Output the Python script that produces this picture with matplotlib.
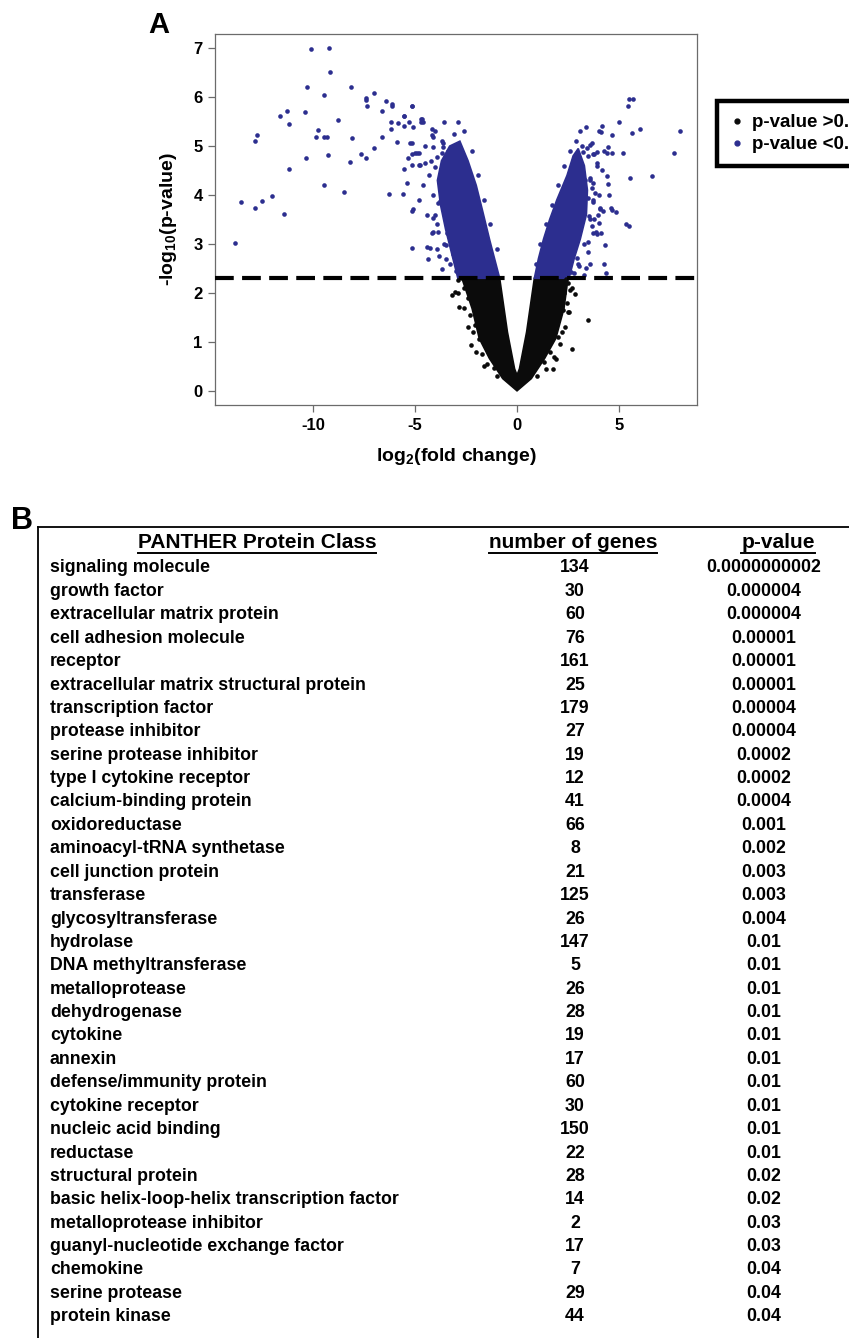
# -*- coding: utf-8 -*-
"""
Volcano plot (panel A) + PANTHER protein-class enrichment table (panel B).
Output: out.png, 849 x 1338 px.
"""
import matplotlib
matplotlib.use("Agg")
import matplotlib.pyplot as plt
from matplotlib.lines import Line2D

plt.rcParams.update({
    "font.family": ["Liberation Sans", "DejaVu Sans"],
    "font.weight": "bold",
    "mathtext.fontset": "custom",
    "mathtext.rm": "Liberation Sans:bold",
    "mathtext.bf": "Liberation Sans:bold",
    "mathtext.it": "Liberation Sans:bold",
})

C_NS = "#0b0b0b"        # p-value > 0.005
C_SIG = "#2c2e8f"       # p-value < 0.005
THRESH = 2.301          # -log10(0.005)

# ── panel A: scattered genes (log2 FC, -log10 p) ────────────────────────────
sig_x = [-10.11, -9.23, -9.17, -10.28, -8.15, -9.44, -6.99, -7.40, -7.40, -6.44,
         -6.13, -6.13, -7.34, -5.15, -11.62, -11.26, -11.18, -10.38, -8.76, -6.63,
         -6.18, -5.54, -5.29, -5.08, -4.71, -4.71, -5.54, -5.82, -6.19, -9.77,
         -9.85, -9.44, -9.30, -8.07, -9.26, -10.33, -8.19, -7.65, -7.42, -6.99,
         -6.60, -5.90, -5.25, -12.84, -12.73, -11.18, -13.53, -12.84, -12.48, -12.03,
         -11.44, -9.46, -8.48, -6.29, -5.57, -5.54, -5.33, -5.15, -5.15, -5.15,
         -5.41, -5.00, -4.80, -4.80, -13.80,
         -5.09, -5.13, -4.40, -4.25, -4.34, -3.81, -3.68, -4.02, -3.87, -4.10,
         -3.34, -3.77, -3.58, -3.30, -3.49, -3.15, -2.96, -2.83, -2.92,
         -5.16, -5.54, -4.67, -4.59, -4.18, -4.18, -4.10, -3.61, -3.61, -3.28,
         -3.20, -3.12, -2.71, -2.55, -5.16, -4.92, -4.75, -4.51, -4.10, -3.94,
         -4.02, -3.77, -3.69, -3.45, -2.96, -2.96, -3.86, -4.13, -3.53, -3.28,
         -3.20, -4.18, -3.45,
         -4.30, -4.10, -4.40, -3.90, -3.60, -3.30, -3.90, -4.60, -4.20, -3.70,
         -3.10, -2.60, -4.50, -3.40, -2.20, -1.90, -1.60, -1.30, -1.00, -3.00,
         -2.80, -3.50, -4.80, -4.00, -3.60, -2.90,
         5.47, 5.70, 5.46, 5.02, 6.03, 5.65, 7.99, 7.70, 6.63, 5.54,
         5.50, 5.21, 4.64, 4.18, 4.02, 4.10, 4.48, 4.26, 4.66, 4.40,
         3.91, 3.66, 3.56, 3.42, 3.25, 3.78, 3.70, 3.94, 4.15, 4.43,
         4.48, 4.51, 4.22, 4.64, 4.85, 4.07, 4.12, 2.76, 3.01, 3.25,
         3.33, 3.58, 3.74, 3.66, 3.82, 3.50, 3.74, 3.99, 3.53, 3.66,
         3.74, 4.34, 4.25, 3.58, 3.30, 3.02, 3.87, 4.02, 4.30, 4.62,
         5.32, 4.06, 3.77, 3.49, 3.49, 3.11, 2.92, 2.64,
         3.60, 3.70, 3.60, 3.30, 3.00, 2.80, 3.90, 3.50, 3.20, 2.90,
         2.60, 2.30, 2.00, 1.70, 1.40, 1.15, 0.95, 4.00, 3.90, 3.40,
         3.10, 3.40]
sig_y = [6.99, 7.00, 6.52, 6.21, 6.21, 6.04, 6.09, 5.99, 5.95, 5.92,
         5.87, 5.82, 5.81, 5.82, 5.61, 5.72, 5.46, 5.69, 5.54, 5.71,
         5.49, 5.61, 5.50, 5.38, 5.55, 5.49, 5.41, 5.48, 5.34, 5.33,
         5.18, 5.18, 5.18, 5.16, 4.82, 4.75, 4.67, 4.84, 4.76, 4.97,
         5.19, 5.08, 5.07, 5.10, 5.23, 4.53, 3.85, 3.74, 3.87, 3.99,
         3.62, 4.20, 4.07, 4.03, 4.02, 4.53, 4.76, 4.84, 4.61, 3.68,
         4.25, 4.85, 4.85, 4.61, 3.02,
         3.71, 2.92, 2.94, 2.91, 2.69, 2.76, 2.49, 3.59, 3.25, 3.25,
         3.25, 3.88, 3.69, 3.69, 2.98, 2.79, 2.64, 3.25, 2.50,
         5.82, 5.61, 5.56, 5.49, 5.35, 5.23, 5.19, 5.07, 4.99, 4.80,
         4.65, 4.58, 4.39, 4.37, 5.07, 4.85, 4.61, 4.65, 4.99, 4.78,
         4.58, 4.37, 4.85, 4.51, 4.44, 4.24, 3.83, 3.54, 3.96, 3.90,
         3.76, 3.22, 3.22,
         4.40, 4.00, 3.60, 3.40, 3.00, 2.60, 2.90, 4.20, 4.70, 5.10,
         5.25, 5.30, 5.00, 4.90, 4.90, 4.40, 3.90, 3.40, 2.90, 2.45,
         2.55, 2.70, 3.90, 5.30, 5.50, 5.50,
         5.96, 5.96, 5.82, 5.50, 5.34, 5.27, 5.31, 4.86, 4.39, 4.35,
         3.37, 4.85, 5.22, 5.41, 5.31, 5.28, 4.99, 4.90, 4.86, 4.85,
         4.88, 5.07, 5.02, 4.97, 4.87, 4.84, 4.83, 4.66, 4.51, 4.39,
         4.22, 4.00, 3.68, 3.69, 3.66, 3.72, 3.22, 4.69, 4.58, 4.44,
         4.31, 4.34, 4.24, 4.14, 4.05, 3.93, 3.86, 3.59, 3.57, 3.36,
         3.23, 2.40, 2.60, 2.60, 2.37, 2.54, 3.25, 3.42, 2.98, 3.73,
         3.41, 3.73, 3.52, 2.84, 3.05, 3.29, 2.71, 2.43,
         4.30, 3.90, 3.50, 3.00, 2.60, 2.40, 4.60, 4.80, 5.00, 5.10,
         4.90, 4.60, 4.20, 3.80, 3.40, 3.00, 2.60, 4.00, 3.20, 2.50,
         5.30, 5.40]

ns_x = [-3.21, -3.06, -2.83, -2.26, -2.17, 3.49, 2.70, 1.92, 2.83, 2.26,
        2.36, 1.32, -2.87, -1.94, -2.04, -2.60, -2.40, 2.50, 2.60, 2.45,
        -1.70, -1.45, 1.60, 2.00, -2.30, 2.40, -2.70, 2.10, -1.85, 1.75,
        -1.13, -2.50, -2.35, 2.30, 2.55, -2.90, -2.60, -2.40, -2.00, -1.60,
        2.70, 2.50, 2.20, 1.80, 1.40, -1.00, 1.00]
ns_y = [1.96, 2.02, 1.72, 0.93, 1.21, 1.45, 0.85, 0.64, 1.98, 1.65,
        1.31, 0.59, 2.26, 1.58, 1.34, 2.10, 1.90, 2.20, 2.05, 1.80,
        0.75, 0.55, 0.80, 1.10, 1.55, 2.28, 2.30, 0.95, 1.05, 0.45,
        0.46, 2.25, 2.15, 2.00, 1.60, 2.00, 1.70, 1.30, 0.80, 0.50,
        2.10, 1.60, 1.20, 0.70, 0.45, 0.30, 0.30]

# envelopes of the three saturated clouds (too dense to read point by point)
core_ns_x = [0.0, -0.70, -1.35, -1.85, -2.20, -2.70, -0.85, -0.47, -0.12, 0.0,
             0.12, 0.47, 0.85, 2.50, 2.30, 1.90, 1.35, 0.70]
core_ns_y = [0.0, 0.25, 0.66, 1.07, 1.68, 2.30, 2.30, 1.20, 0.45, 0.32,
             0.45, 1.20, 2.30, 2.30, 1.68, 1.07, 0.66, 0.25]
core_left_x = [-2.90, -3.20, -3.50, -3.75, -3.90, -3.70, -3.30, -2.80, -2.40,
               -2.00, -1.70, -1.35, -1.10, -0.85]
core_left_y = [2.30, 2.80, 3.30, 3.80, 4.30, 4.70, 5.00, 5.10, 4.70,
               4.20, 3.70, 3.10, 2.70, 2.30]
core_right_x = [0.85, 1.05, 1.30, 1.60, 1.95, 2.45, 2.75, 3.00, 3.30, 3.45,
                3.40, 3.10, 2.80, 2.55]
core_right_y = [2.30, 2.70, 3.10, 3.50, 3.90, 4.40, 4.80, 4.95, 4.60, 4.10,
                3.60, 3.10, 2.70, 2.30]

x_ticks = [-10, -5, 0, 5]
y_ticks = [0, 1, 2, 3, 4, 5, 6, 7]
legend_labels = ["p-value >0.005", "p-value <0.005"]

# ── panel B: PANTHER table ───────────────────────────────────────────────────
headers = ["PANTHER Protein Class", "number of genes", "p-value"]
classes = [
    "signaling molecule", "growth factor", "extracellular matrix protein",
    "cell adhesion molecule", "receptor", "extracellular matrix structural protein",
    "transcription factor", "protease inhibitor", "serine protease inhibitor",
    "type I cytokine receptor", "calcium-binding protein", "oxidoreductase",
    "aminoacyl-tRNA synthetase", "cell junction protein", "transferase",
    "glycosyltransferase", "hydrolase", "DNA methyltransferase", "metalloprotease",
    "dehydrogenase", "cytokine", "annexin", "defense/immunity protein",
    "cytokine receptor", "nucleic acid binding", "reductase", "structural protein",
    "basic helix-loop-helix transcription factor", "metalloprotease inhibitor",
    "guanyl-nucleotide exchange factor", "chemokine", "serine protease",
    "protein kinase",
]
n_genes = [134, 30, 60, 76, 161, 25, 179, 27, 19, 12, 41, 66, 8, 21, 125, 26,
           147, 5, 26, 28, 19, 17, 60, 30, 150, 22, 28, 14, 2, 17, 7, 29, 44]
p_values = ["0.0000000002", "0.000004", "0.000004", "0.00001", "0.00001",
            "0.00001", "0.00004", "0.00004", "0.0002", "0.0002", "0.0004",
            "0.001", "0.002", "0.003", "0.003", "0.004", "0.01", "0.01", "0.01",
            "0.01", "0.01", "0.01", "0.01", "0.01", "0.01", "0.01", "0.02",
            "0.02", "0.03", "0.03", "0.04", "0.04", "0.04"]

W, H = 849, 1338


def fx(px):
    return px / W


def fy(py):
    return 1 - py / H


fig = plt.figure(figsize=(W / 100, H / 100), dpi=100)

# ── (A) volcano ──────────────────────────────────────────────────────────────
ax = fig.add_axes([fx(215), fy(405), fx(697) - fx(215), fy(34) - fy(405)])
ax.fill(core_ns_x, core_ns_y, color=C_NS, lw=1.2, zorder=2)
ax.fill(core_left_x, core_left_y, color=C_SIG, lw=1.2, zorder=2)
ax.fill(core_right_x, core_right_y, color=C_SIG, lw=1.2, zorder=2)
ax.scatter(ns_x, ns_y, s=11, c=C_NS, lw=0, zorder=3)
ax.scatter(sig_x, sig_y, s=11, c=C_SIG, lw=0, zorder=3)
ax.axhline(THRESH, color="black", lw=3, ls=(0, (4.5, 2.0)), zorder=4)

ax.set_xlim(-14.8, 8.82)
ax.set_ylim(-0.29, 7.29)
ax.set_xticks(x_ticks)
ax.set_yticks(y_ticks)
ax.set_xticklabels([str(t) for t in x_ticks])
for sp in ax.spines.values():
    sp.set_color("#6b6b6b")
    sp.set_linewidth(0.9)
ax.tick_params(length=5, width=0.9, color="#6b6b6b", labelsize=12, pad=4)
ax.set_xlabel(r"log$_{2}$(fold change)", fontsize=14, fontweight="bold", labelpad=10)
ax.set_ylabel(r"-log$_{10}$(p-value)", fontsize=14, fontweight="bold", labelpad=10)

fig.text(fx(148), fy(25), "A", fontsize=21, fontweight="bold", ha="left", va="center")

handles = [Line2D([], [], marker="o", ls="", color=C_NS, ms=3.5),
           Line2D([], [], marker="o", ls="", color=C_SIG, ms=3.5)]
leg = fig.legend(handles, legend_labels, loc="upper left",
                 bbox_to_anchor=(fx(717), fy(101)), prop={"size": 13.5, "weight": "bold"},
                 frameon=True, fancybox=False, framealpha=1, borderpad=0.7,
                 labelspacing=0.25, handlelength=0.7, handletextpad=0.45, borderaxespad=0)
leg.get_frame().set_edgecolor("black")
leg.get_frame().set_linewidth(3.2)

# ── (B) table ────────────────────────────────────────────────────────────────
fig.text(fx(11), fy(521), "B", fontsize=22, fontweight="bold", ha="left", va="center")
box_x, box_top = 38, 527
fig.add_artist(Line2D([fx(box_x), 1.0], [fy(box_top), fy(box_top)], color="black", lw=1.3))
fig.add_artist(Line2D([fx(box_x), fx(box_x)], [fy(box_top), 0.0], color="black", lw=1.3))

head_x = [257, 573, 778]
col_x = [50, 575, 764]
head_y = 543
row0_y, row_dy = 568, 23.4

head_txt = [fig.text(fx(cx), fy(head_y), h, fontsize=15, fontweight="bold",
                     ha="center", va="center") for cx, h in zip(head_x, headers)]
for i, (cl, n, p) in enumerate(zip(classes, n_genes, p_values)):
    y = fy(row0_y + i * row_dy)
    fig.text(fx(col_x[0]), y, cl, fontsize=12.8, fontweight="bold", ha="left", va="center")
    fig.text(fx(col_x[1]), y, str(n), fontsize=12.8, fontweight="bold", ha="center", va="center")
    fig.text(fx(col_x[2]), y, p, fontsize=12.8, fontweight="bold", ha="center", va="center")

# underline the column headers
fig.canvas.draw()
r = fig.canvas.get_renderer()
for t in head_txt:
    bb = t.get_window_extent(r)
    fig.add_artist(Line2D([bb.x0 / W, bb.x1 / W], [(bb.y0 - 1) / H, (bb.y0 - 1) / H],
                          color="black", lw=1.4))

fig.savefig("out.png", dpi=100)
